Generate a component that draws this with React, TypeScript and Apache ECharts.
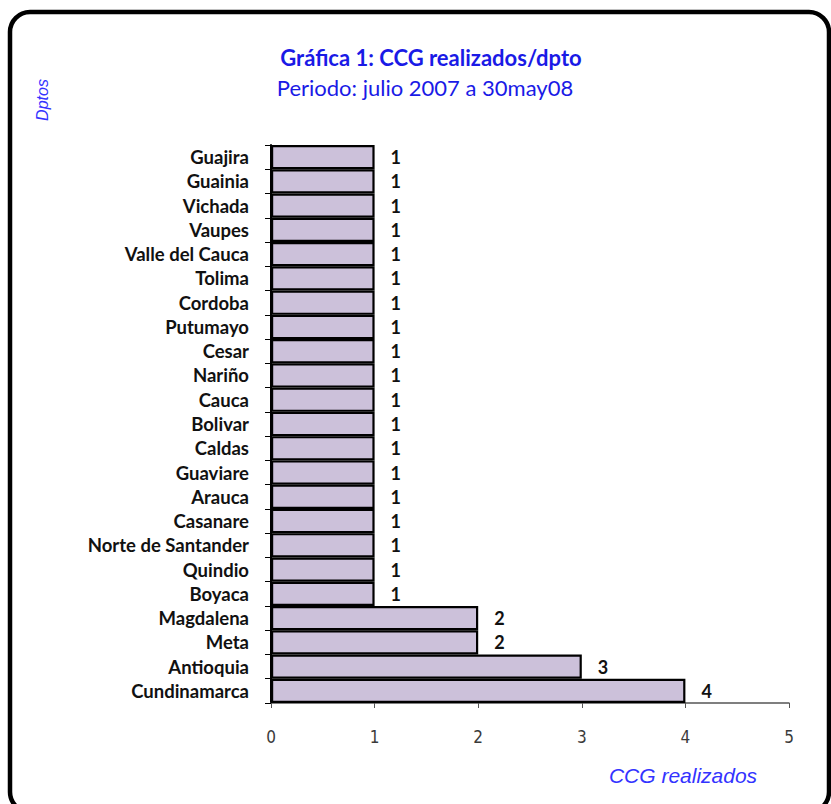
import React, { useEffect, useRef } from "react";
import * as echarts from "echarts";

const categories = [
  "Guajira", "Guainia", "Vichada", "Vaupes", "Valle del Cauca", "Tolima",
  "Cordoba", "Putumayo", "Cesar", "Nariño", "Cauca", "Bolivar", "Caldas",
  "Guaviare", "Arauca", "Casanare", "Norte de Santander", "Quindio", "Boyaca",
  "Magdalena", "Meta", "Antioquia", "Cundinamarca",
];
const values = [1, 1, 1, 1, 1, 1, 1, 1, 1, 1, 1, 1, 1, 1, 1, 1, 1, 1, 1, 2, 2, 3, 4];
const titleText = "Gráfica 1: CCG realizados/dpto";
const subtitleText = "Periodo: julio 2007 a 30may08";
const yName = "Dptos";
const xName = "CCG realizados";

export default function App() {
  const ref = useRef<HTMLDivElement>(null);
  useEffect(() => {
    document.body.style.margin = "0";
    const chart = echarts.init(ref.current!, null, { renderer: "svg" });
    chart.setOption({
      animation: false,
      backgroundColor: "#ffffff",
      grid: { left: 271, right: 42, top: 145, bottom: 101 },
      xAxis: {
        type: "value",
        min: 0,
        max: 5,
        interval: 1,
        splitLine: { show: false },
        axisLine: { show: true, lineStyle: { color: "#555555", width: 1.5 } },
        axisTick: { show: true, length: 5, lineStyle: { color: "#555555" } },
        axisLabel: {
          margin: 25,
          fontFamily: "'DejaVu Sans Condensed', 'Liberation Sans Narrow', 'Liberation Sans'",
          fontSize: 17,
          color: "#3a3a3a",
        },
      },
      yAxis: {
        type: "category",
        data: categories,
        inverse: true,
        axisLine: { show: true, lineStyle: { color: "#000000", width: 2 } },
        axisTick: { show: true, interval: 0, length: 6, lineStyle: { color: "#000000", width: 1 } },
        axisLabel: {
          interval: 0,
          margin: 22,
          fontFamily: "Lato",
          fontSize: 18.5,
          fontWeight: "bold",
          color: "#111111",
        },
      },
      series: [
        {
          type: "bar",
          data: values,
          barCategoryGap: "0%",
          itemStyle: { color: "#ccc1da", borderColor: "#000000", borderWidth: 2.2 },
          label: {
            show: true,
            position: "right",
            distance: 16,
            fontFamily: "Lato",
            fontSize: 18,
            fontWeight: "bold",
            color: "#111111",
          },
        },
      ],
      graphic: [
        {
          type: "rect",
          shape: { x: 10, y: 12, width: 819, height: 800, r: 20 },
          style: { fill: "none", stroke: "#000000", lineWidth: 4.5 },
          z: 10,
        },
        {
          type: "text",
          x: 431,
          y: 57,
          style: {
            text: titleText,
            fontFamily: "Lato",
            fontSize: 22,
            fontWeight: "bold",
            fill: "#1a1ae6",
            align: "center",
            verticalAlign: "middle",
          },
        },
        {
          type: "text",
          x: 425,
          y: 87,
          style: {
            text: subtitleText,
            fontFamily: "Lato",
            fontSize: 22,
            fill: "#1a1ae6",
            align: "center",
            verticalAlign: "middle",
          },
        },
        {
          type: "text",
          x: 42,
          y: 100,
          rotation: Math.PI / 2,
          style: {
            text: yName,
            fontFamily: "Liberation Sans",
            fontStyle: "italic",
            fontSize: 16,
            fill: "#3333ff",
            align: "center",
            verticalAlign: "middle",
          },
        },
        {
          type: "text",
          x: 683,
          y: 775,
          style: {
            text: xName,
            fontFamily: "Liberation Sans",
            fontStyle: "italic",
            fontSize: 21,
            fill: "#3333ff",
            align: "center",
            verticalAlign: "middle",
          },
        },
      ],
    });
    return () => chart.dispose();
  }, []);
  return <div ref={ref} style={{ width: 831, height: 804 }} />;
}
